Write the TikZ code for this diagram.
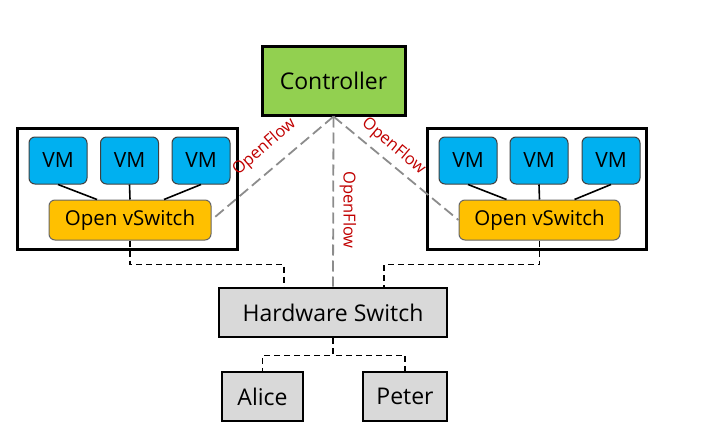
\documentclass[tikz,border=0pt]{standalone}
\usepackage{fontspec}
\setmainfont{Open Sans}
\definecolor{ctrlgreen}{HTML}{92D050}
\definecolor{vmblue}{HTML}{00B0F0}
\definecolor{ovsyellow}{HTML}{FFC000}
\definecolor{hwgrey}{HTML}{D9D9D9}
\definecolor{ofred}{HTML}{C00000}
\definecolor{ofgrey}{HTML}{8C8C8C}
\tikzset{
  bigbox/.style={draw=black, line width=3pt, inner sep=0pt},
  vmbox/.style={draw=black!75, line width=1pt, fill=vmblue, rounded corners=6pt,
     minimum width=58pt, minimum height=47pt, inner sep=0pt, font=\fontsize{21}{24}\selectfont},
  ovsbox/.style={draw=black!60, line width=1pt, fill=ovsyellow, rounded corners=6pt,
     minimum height=40pt, inner sep=0pt, font=\fontsize{20.5}{24}\selectfont},
  greybox/.style={draw=black, line width=2.8pt, fill=hwgrey, inner sep=0pt,
     minimum height=49pt, font=\fontsize{23}{26}\selectfont},
  vmlink/.style={draw=black, line width=1.6pt},
  blackdash/.style={draw=black, line width=1.8pt, dash pattern=on 6pt off 4pt},
  greydash/.style={draw=ofgrey, line width=1.8pt, dash pattern=on 11pt off 5pt},
  oflabel/.style={text=ofred, font=\fontsize{16.5}{19}\selectfont, inner sep=0pt}
}
\begin{document}
\begin{tikzpicture}[x=1pt,y=-1pt]
\useasboundingbox (0,0) rectangle (718,436);
% containers
\node[bigbox, minimum width=220pt, minimum height=121pt] (contL) at (127,188.5) {};
\node[bigbox, minimum width=219pt, minimum height=121pt] (contR) at (536.5,188.5) {};
% controller
\node[bigbox, fill=ctrlgreen, minimum width=143pt, minimum height=68pt,
      font=\fontsize{23}{26}\selectfont] (ctrl) at (333.5,81) {Controller};
% VMs
\node[vmbox] (vm1) at (58,160.5) {VM};
\node[vmbox] (vm2) at (129.5,160.5) {VM};
\node[vmbox] (vm3) at (201,160.5) {VM};
\node[vmbox] (vm4) at (468,160.5) {VM};
\node[vmbox] (vm5) at (539,160.5) {VM};
\node[vmbox] (vm6) at (611,160.5) {VM};
% OVS
\node[ovsbox, minimum width=162pt] (ovsL) at (130,220) {Open vSwitch};
\node[ovsbox, minimum width=161pt] (ovsR) at (539.5,220) {Open vSwitch};
% hardware switch and hosts
\node[greybox, minimum width=228pt] (hw) at (333,312.5) {Hardware Switch};
\node[greybox, minimum width=81pt] (alice) at (262.5,396.5) {Alice};
\node[greybox, minimum width=84pt] (peter) at (405,396.5) {Peter};
% VM links
\draw[vmlink] (vm1.south) -- ([xshift=-33pt]ovsL.north);
\draw[vmlink] (vm2.south) -- (ovsL.north);
\draw[vmlink] (vm3.south) -- ([xshift=34pt]ovsL.north);
\draw[vmlink] (vm4.south) -- ([xshift=-33pt]ovsR.north);
\draw[vmlink] (vm5.south) -- (ovsR.north);
\draw[vmlink] (vm6.south) -- ([xshift=35pt]ovsR.north);
% data links
\draw[blackdash] (ovsL.south) -- ++(0,24) -| ([xshift=-49pt]hw.north);
\draw[blackdash] (ovsR.south) -- ++(0,24) -| ([xshift=51pt]hw.north);
\draw[blackdash] (hw.south) -- ++(0,17) -| (alice.north);
\draw[blackdash] (hw.south) -- ++(0,17) -| (peter.north);
% OpenFlow links
\draw[greydash] (ctrl.south) -- (ovsL.east);
\draw[greydash] (ctrl.south) -- (ovsR.west);
\draw[greydash] (ctrl.south) -- (hw.north);
% labels
\node[oflabel, rotate=41] (ofl) at (264.5,147) {OpenFlow};
\node[oflabel, rotate=-40] (ofr) at (393.5,146.5) {OpenFlow};
\node[oflabel, rotate=-90] (ofm) at (348,210) {OpenFlow};
\end{tikzpicture}
\end{document}
